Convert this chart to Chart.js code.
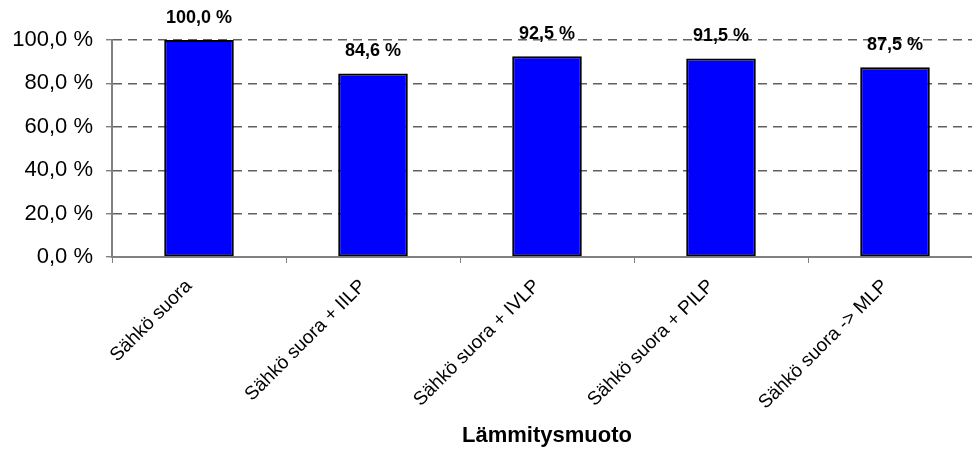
<!DOCTYPE html>
<html>
<head>
<meta charset="utf-8">
<script src="https://cdn.jsdelivr.net/npm/chart.js@4"></script>
<style>
  html, body { margin: 0; padding: 0; background: #fff; overflow: hidden; }
  #wrap { width: 995px; height: 452px; }
</style>
</head>
<body>
<div id="wrap"><canvas id="lammitys" width="995" height="452"></canvas></div>
<script>
// data
const categories = ['Sähkö suora', 'Sähkö suora + IILP', 'Sähkö suora + IVLP', 'Sähkö suora + PILP', 'Sähkö suora -> MLP'];
const shareValues = [100.0, 84.6, 92.5, 91.5, 87.5];
const yTicks = [0, 20, 40, 60, 80, 100];
const axisTitle = 'Lämmitysmuoto';

const fontFamily = '"Liberation Sans", Arial, sans-serif';

function pct(v) {
    return v.toFixed(1).replace('.', ',') + ' %';
}

// value labels above the bars
const barLabels = {
    id: 'barLabels',
    afterDatasetsDraw(chart) {
        const ctx = chart.ctx;
        const meta = chart.getDatasetMeta(0);
        ctx.save();
        ctx.font = 'bold 18px ' + fontFamily;
        ctx.fillStyle = '#000';
        ctx.textAlign = 'center';
        ctx.textBaseline = 'bottom';
        meta.data.forEach((bar, i) => {
            ctx.fillText(pct(shareValues[i]), bar.x, bar.y - 13);
        });
        ctx.restore();
    }
};

const lammitysData = {
    labels: categories,
    datasets: [
        {
            data: shareValues,
            backgroundColor: '#0000ff',
            borderColor: '#000000',
            borderWidth: 2,
            borderSkipped: false,
            barPercentage: 0.4,
            categoryPercentage: 1.0,
        }
    ]
};

const lammitysConfig = {
    type: 'bar',
    data: lammitysData,
    options: {
        responsive: false,
        animation: false,
        layout: {
            padding: { top: 40, right: 13, bottom: 0, left: 0 }
        },
        plugins: {
            legend: { display: false },
            tooltip: { enabled: false },
        },
        scales: {
            x: {
                grid: {
                    offset: true,
                    drawOnChartArea: false,
                    tickLength: 6,
                    color: '#808080',
                    lineWidth: 1,
                },
                border: { color: '#808080', width: 2 },
                ticks: {
                    color: '#000',
                    font: { family: fontFamily, size: 19 },
                    minRotation: 45,
                    maxRotation: 45,
                    autoSkip: false,
                    padding: 12,
                    labelOffset: -10,
                },
                title: {
                    display: true,
                    text: axisTitle,
                    color: '#000',
                    font: { family: fontFamily, size: 22, weight: 'bold' },
                    padding: { top: 0, bottom: 3 },
                },
                afterFit(scale) {
                    scale.height = 195;
                },
            },
            y: {
                min: 0,
                max: 100,
                afterBuildTicks(scale) {
                    scale.ticks = yTicks.map(v => ({ value: v }));
                },
                grid: {
                    color: '#606060',
                    lineWidth: 1.4,
                    tickLength: 6,
                    tickColor: '#808080',
                },
                border: { color: '#808080', width: 2, dash: [9, 6] },
                ticks: {
                    color: '#000',
                    font: { family: fontFamily, size: 22 },
                    padding: 13,
                    callback: (v) => pct(v),
                },
                afterFit(scale) {
                    scale.width = 112;
                },
            }
        }
    },
    plugins: [barLabels]
};

let lammitysChart = new Chart(
    document.getElementById('lammitys'),
    lammitysConfig
);
</script>
</body>
</html>
